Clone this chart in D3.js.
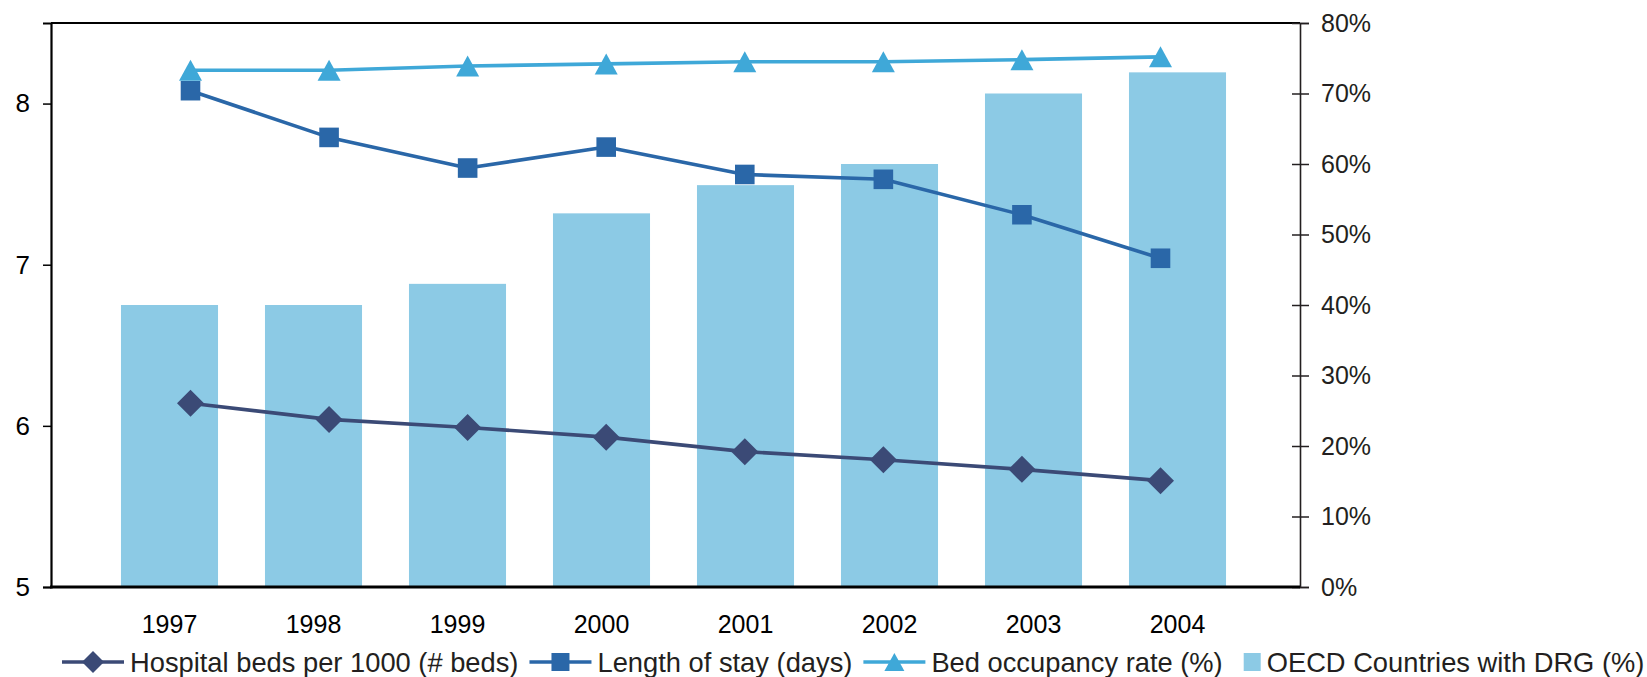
<!DOCTYPE html>
<html>
<head>
<meta charset="utf-8">
<script src="https://cdn.jsdelivr.net/npm/d3@7"></script>
<style>
  html, body { margin: 0; padding: 0; background: #fff; }
  svg { display: block; font-family: "Liberation Sans", Arial, Helvetica, sans-serif; }
</style>
</head>
<body>
<svg id="chart" width="1647" height="677"></svg>
<script>
// Years on the category axis
const years = ["1997", "1998", "1999", "2000", "2001", "2002", "2003", "2004"];

// Left axis series
const hospitalBeds = [6.14, 6.04, 5.99, 5.93, 5.84, 5.79, 5.73, 5.66];
const lengthOfStay = [8.08, 7.79, 7.60, 7.73, 7.56, 7.53, 7.31, 7.04];

// Right axis series (shares)
const bedOccupancy = [0.733, 0.733, 0.739, 0.742, 0.745, 0.745, 0.748, 0.752];
const drgShare = [0.40, 0.40, 0.43, 0.53, 0.57, 0.60, 0.70, 0.73];

// Tick values
const leftTicks = [5, 6, 7, 8];
const rightTicks = [0, 0.1, 0.2, 0.3, 0.4, 0.5, 0.6, 0.7, 0.8];

// Legend labels
const legendLabels = [
  "Hospital beds per 1000 (# beds)",
  "Length of stay (days)",
  "Bed occupancy rate (%)",
  "OECD Countries with DRG (%)"
];

const colors = {
  beds: "#3b4a76",
  stay: "#2a67a8",
  occupancy: "#3fa8d8",
  bars: "#8ccae5",
  ink: "#231f20"
};

const svg = d3.select("#chart");

const plot = { left: 51, right: 1300, top: 23, bottom: 587 };

// Bars sit on a band scale; the line series use their own point scale
const x = d3.scaleBand()
  .domain(years)
  .range([97.5, 1249.5])
  .paddingInner(0.326)
  .paddingOuter(0.163);

const xLine = d3.scalePoint()
  .domain(years)
  .range([190.5, 1160.5]);

const yL = d3.scaleLinear().domain([5, 8.5]).range([plot.bottom, plot.top]);
const yR = d3.scaleLinear().domain([0, 0.8]).range([plot.bottom, plot.top]);

// Bars: share of countries using DRG payment
svg.append("g")
  .selectAll("rect")
  .data(drgShare)
  .join("rect")
  .attr("x", (d, i) => x(years[i]))
  .attr("width", x.bandwidth())
  .attr("y", d => yR(d))
  .attr("height", d => yR(0) - yR(d))
  .attr("fill", colors.bars);

// Marker shapes
function diamondPath(cx, cy, r) {
  const p = d3.path();
  p.moveTo(cx, cy - r); p.lineTo(cx + r, cy); p.lineTo(cx, cy + r); p.lineTo(cx - r, cy); p.closePath();
  return p.toString();
}
function squarePath(cx, cy, r) {
  const p = d3.path();
  p.rect(cx - r, cy - r, 2 * r, 2 * r);
  return p.toString();
}
function trianglePath(cx, cy, w, h) {
  const p = d3.path();
  p.moveTo(cx, cy - h / 2); p.lineTo(cx + w / 2, cy + h / 2); p.lineTo(cx - w / 2, cy + h / 2); p.closePath();
  return p.toString();
}

const cx = i => xLine(years[i]);

function drawSeries(values, scale, color, marker) {
  const g = svg.append("g");
  const line = d3.line().x((d, i) => cx(i)).y(d => scale(d));
  g.append("path")
    .attr("d", line(values))
    .attr("fill", "none")
    .attr("stroke", color)
    .attr("stroke-width", 3.6)
    .attr("stroke-linejoin", "round");
  g.selectAll("path.mk")
    .data(values)
    .join("path")
    .attr("class", "mk")
    .attr("d", (d, i) => marker(cx(i), scale(d)))
    .attr("fill", color);
}

drawSeries(hospitalBeds, yL, colors.beds, (a, b) => diamondPath(a, b, 13.5));
drawSeries(lengthOfStay, yL, colors.stay, (a, b) => squarePath(a, b, 9.8));
drawSeries(bedOccupancy, yR, colors.occupancy, (a, b) => trianglePath(a, b, 23, 21));

// Frame: top edge
svg.append("line")
  .attr("x1", plot.left).attr("x2", plot.right)
  .attr("y1", plot.top).attr("y2", plot.top)
  .attr("stroke", "#000").attr("stroke-width", 2);

// Left axis
const leftAxis = svg.append("g")
  .attr("transform", `translate(${plot.left},0)`)
  .call(d3.axisLeft(yL).tickValues(leftTicks).tickSize(8).tickPadding(13).tickFormat(d3.format("d")));
leftAxis.select(".domain").attr("stroke", "#000").attr("stroke-width", 2.2);
leftAxis.selectAll(".tick line").attr("stroke", "#000").attr("stroke-width", 1.5);
leftAxis.selectAll(".tick text").attr("font-size", 26).attr("fill", "#000")
  .attr("font-family", "Liberation Sans, Arial, sans-serif");

// Right axis with crossing ticks
const rightAxis = svg.append("g")
  .attr("transform", `translate(${plot.right},0)`)
  .call(d3.axisRight(yR).tickValues(rightTicks).tickSize(9).tickPadding(12).tickFormat(d3.format(".0%")));
rightAxis.select(".domain").attr("stroke", colors.ink).attr("stroke-width", 1.6);
rightAxis.selectAll(".tick line").attr("x1", -8).attr("stroke", colors.ink).attr("stroke-width", 1.5);
rightAxis.selectAll(".tick text").attr("font-size", 25).attr("fill", colors.ink)
  .attr("font-family", "Liberation Sans, Arial, sans-serif");

// Bottom axis
const bottomAxis = svg.append("g")
  .attr("transform", `translate(0,${plot.bottom})`)
  .call(d3.axisBottom(x).tickSize(0).tickPadding(28));
bottomAxis.select(".domain").remove();
bottomAxis.selectAll(".tick text").attr("font-size", 25).attr("fill", "#000")
  .attr("font-family", "Liberation Sans, Arial, sans-serif");
svg.append("line")
  .attr("x1", plot.left - 1).attr("x2", plot.right)
  .attr("y1", plot.bottom).attr("y2", plot.bottom)
  .attr("stroke", "#000").attr("stroke-width", 3.2);

// Legend
const legend = svg.append("g").attr("transform", "translate(0,662)");
const legendItems = [
  { label: legendLabels[0], color: colors.beds, kind: "line", marker: (a, b) => diamondPath(a, b, 11) },
  { label: legendLabels[1], color: colors.stay, kind: "line", marker: (a, b) => squarePath(a, b, 9) },
  { label: legendLabels[2], color: colors.occupancy, kind: "line", marker: (a, b) => trianglePath(a, b, 20, 18) },
  { label: legendLabels[3], color: colors.bars, kind: "box" }
];
let lx = 62;
legendItems.forEach((item, i) => {
  if (item.kind === "line") {
    legend.append("line")
      .attr("x1", lx).attr("x2", lx + 62).attr("y1", 0).attr("y2", 0)
      .attr("stroke", item.color).attr("stroke-width", 3.4);
    legend.append("path").attr("d", item.marker(lx + 31, 0)).attr("fill", item.color);
    lx += 62 + 6;
  } else {
    lx += 10;
    legend.append("rect").attr("x", lx).attr("y", -9).attr("width", 17).attr("height", 18).attr("fill", item.color);
    lx += 17 + 6;
  }
  const t = legend.append("text")
    .attr("x", lx).attr("y", 0).attr("dy", "0.36em")
    .attr("font-size", 27.3).attr("fill", colors.ink)
    .text(item.label);
  lx += t.node().getComputedTextLength() + 11;
});
</script>
</body>
</html>
